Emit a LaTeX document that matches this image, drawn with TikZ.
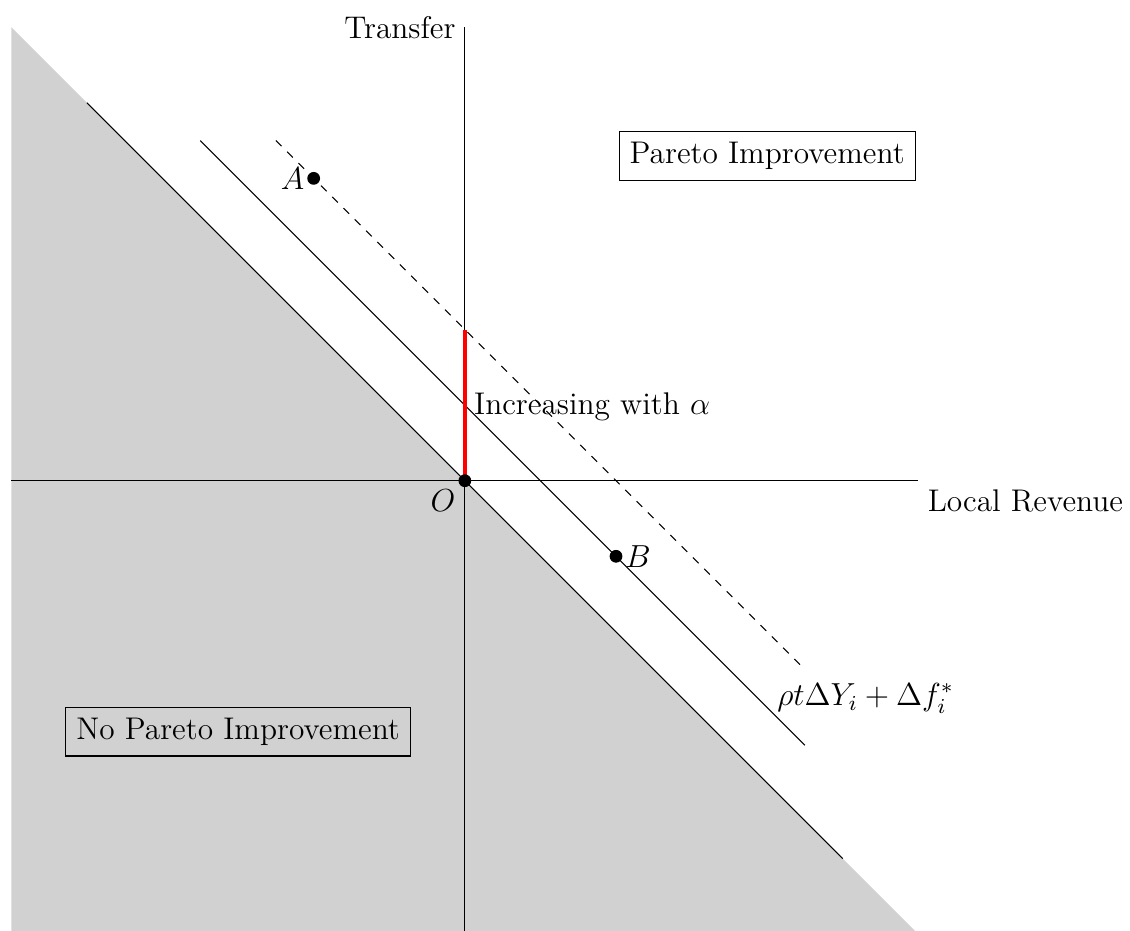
\documentclass[tikz,border=0pt]{standalone}
\begin{document}
\begin{tikzpicture}[font=\fontsize{11.8}{14}\selectfont,
    lbox/.style={draw, thin, inner sep=4pt}]
            \useasboundingbox (-6.15,-5.95) rectangle (8.8,6.36);
            \fill[black!18] (-6,6) -- (6,-6) -- (-6,-6) -- cycle;
            \coordinate (O) at (0,0);
            \coordinate (A) at (-2,4);
            \coordinate (B) at (2,-1);
            \draw (-6,0) -- (6,0) node[below right] {Local Revenue};
            \draw (0,-6) -- (0,6) node[left] {Transfer};
            \draw (-5,5) -- (5,-5);
            \draw (-3.5,4.5) -- (4.5,-3.5);
            \draw[dashed] (-2.5,4.5) -- (4.45,-2.45);
            \node at (5.3,-2.88) {$\rho t\Delta Y_i+\Delta f_i^*$};
            \draw[red, line width=1.6pt] (O) -- (0,2);
            \node[right] at (0,0.98) {Increasing with $\alpha$};
            \filldraw (O) circle (2.2pt) node[below left] {$O$};
            \filldraw (A) circle (2.2pt) node[left] {$A$};
            \filldraw (B) circle (2.2pt) node[right] {$B$};
            \node[lbox] at (4,4.3) {Pareto Improvement};
            \node[lbox] at (-3,-3.32) {No Pareto Improvement};
        \end{tikzpicture}
\end{document}
